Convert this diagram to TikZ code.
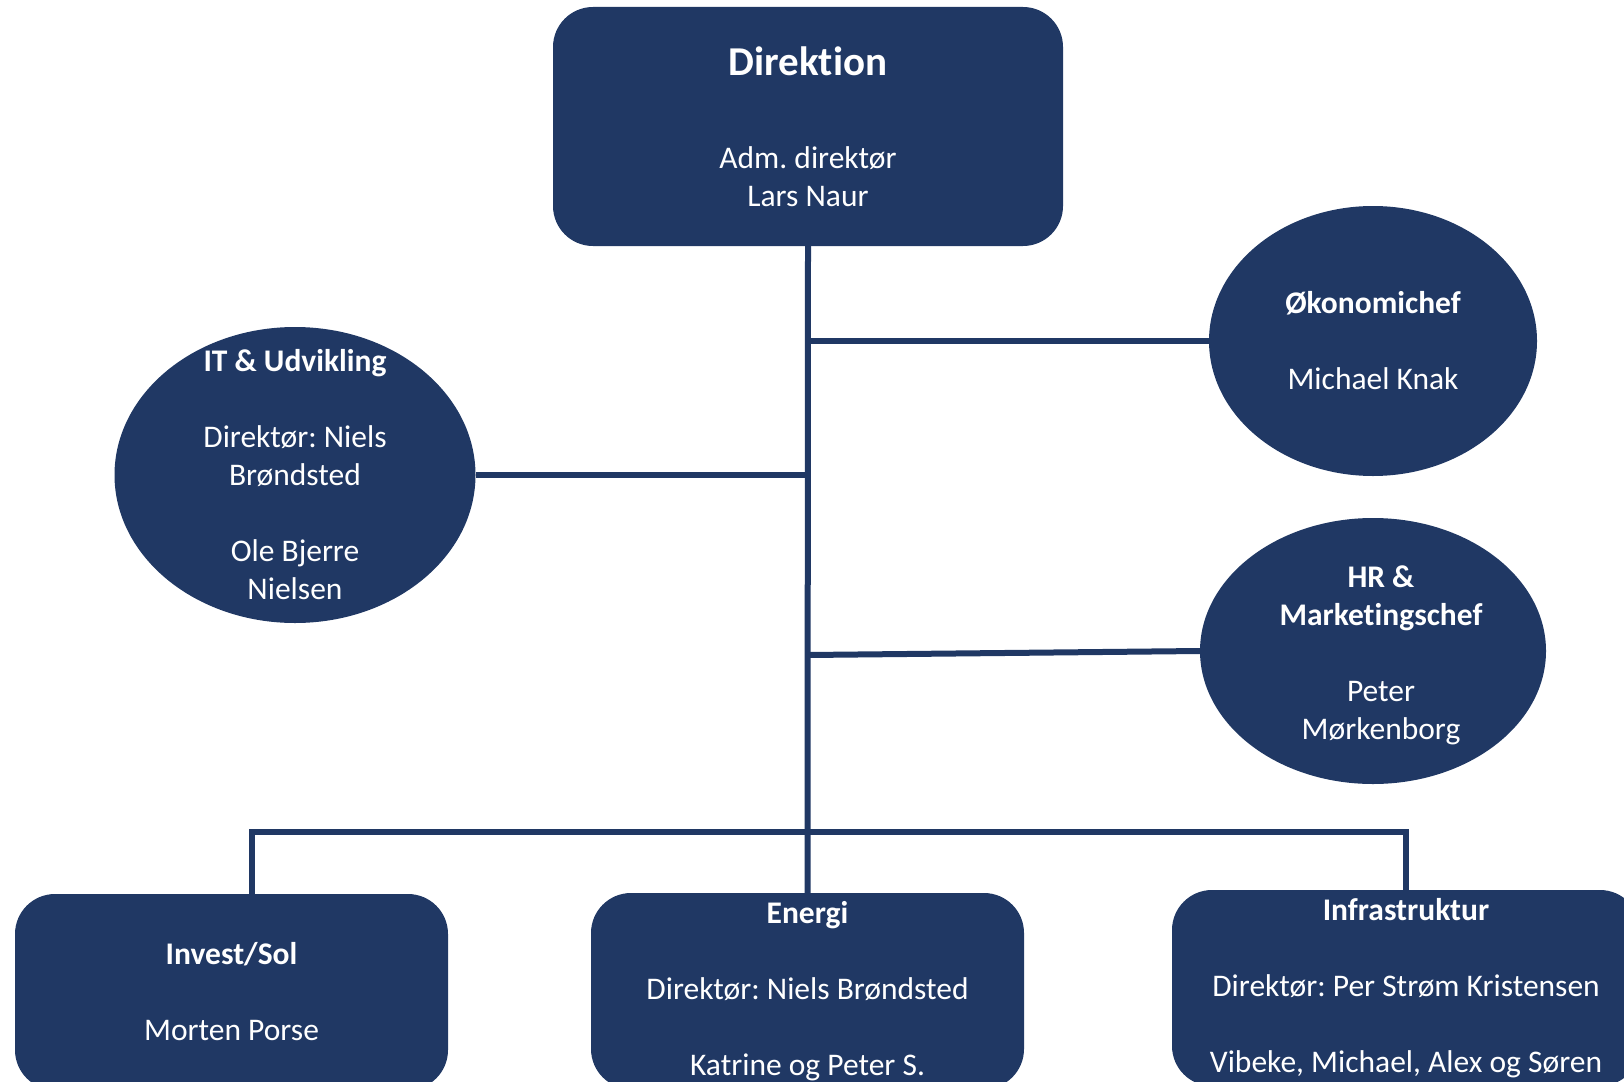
\documentclass[tikz,border=0pt]{standalone}
\usepackage{fontspec}
\setmainfont{Carlito}[Ligatures=NoCommon]
\usetikzlibrary{shapes.geometric}
\definecolor{navy}{HTML}{203864}
\frenchspacing

\begin{document}
\begin{tikzpicture}[x=1pt,y=-1pt,
	box/.style={rectangle,rounded corners=40pt,fill=navy,text=white,align=center,inner sep=0pt,font=\fontsize{31.5}{38}\selectfont},
	oval/.style={ellipse,fill=navy,inner sep=0pt},
	ovaltext/.style={text=white,align=center,inner sep=0pt,font=\fontsize{31.5}{38}\selectfont},
	link/.style={draw=navy,line width=6pt}]

	\useasboundingbox (0,0) rectangle (1624,1081);
	\clip (0,0) rectangle (1624,1081);

	\node[box,minimum width=510pt,minimum height=239pt] (direk) at (808,126.5) {{\fontsize{41}{49}\selectfont\bfseries Direktion}\\[55pt]Adm. direktør\\Lars Naur};

	\node[oval,minimum width=328pt,minimum height=270pt,label={[ovaltext]center:\textbf{Økonomichef}\\[38pt]Michael Knak}] (oekonomi) at (1373,341) {};
	\node[oval,minimum width=361pt,minimum height=296pt,label={[ovaltext]center:\textbf{IT \& Udvikling}\\[38pt]Direktør: Niels\\Brøndsted\\[38pt]Ole Bjerre\\Nielsen}] (itudv) at (295,475) {};
	\node[oval,minimum width=346pt,minimum height=266pt,label={[ovaltext,xshift=8pt,yshift=-4pt]center:\textbf{HR \&}\\\textbf{Marketingschef}\\[38pt]Peter\\Mørkenborg}] (hrmark) at (1373,651) {};

	\node[box,minimum width=433pt,minimum height=196pt] (invest) at (231.5,992) {\textbf{Invest/Sol}\\[38pt]Morten Porse};
	\node[box,minimum width=433pt,minimum height=196pt] (energi) at (807.5,991) {\textbf{Energi}\\[38pt]Direktør: Niels Brøndsted\\[38pt]Katrine og Peter S.};
	\node[box,minimum width=468pt,minimum height=196pt] (infra) at (1406,988) {\textbf{Infrastruktur}\\[38pt]Direktør: Per Strøm Kristensen\\[38pt]Vibeke, Michael, Alex og Søren};

	\coordinate (bus) at (808,832);

	\draw[link] (direk.south) -- (energi.north);
	\draw[link] (oekonomi.west) -- (oekonomi.west -| direk.south);
	\draw[link] (itudv.east) -- (itudv.east -| direk.south);
	\draw[link] (hrmark.west) -- ([yshift=-4pt]hrmark.west -| direk.south);
	\draw[link] ([xshift=20.5pt]invest.north) |- (bus) -| (infra.north);

\end{tikzpicture}
\end{document}
